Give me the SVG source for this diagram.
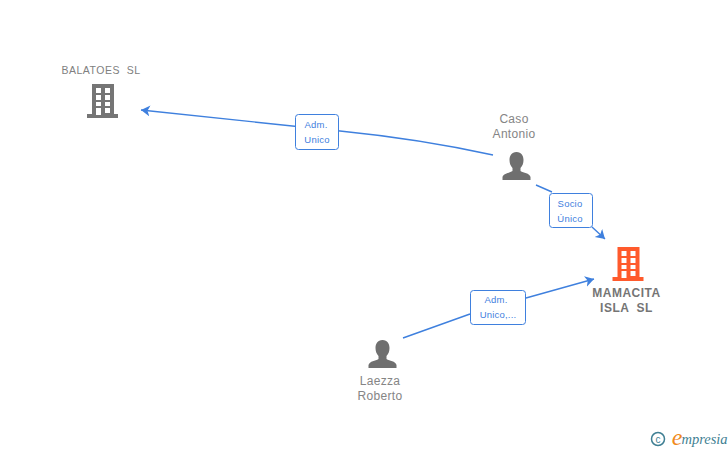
<svg xmlns="http://www.w3.org/2000/svg" width="728" height="450" viewBox="0 0 728 450">
<style>
text{font-family:"Liberation Sans",Arial,sans-serif;text-anchor:middle}
.n{font-size:12px;fill:#858585;letter-spacing:.3px}
.b{font-size:12px;fill:#757575;font-weight:700;letter-spacing:.5px}
.s{font-size:10.5px;fill:#808080;letter-spacing:.5px}
.l{font-size:9.5px;fill:#3f80de;letter-spacing:.2px}
.c{fill:none;stroke:#3f80de;stroke-width:1.4;marker-end:url(#a)}
.box{fill:#fff;stroke:#3f80de;stroke-width:1}
.p{fill:#6f6f6f}
.g{fill:#3f7f93}
</style>
<defs>
<marker id="a" markerUnits="userSpaceOnUse" markerWidth="12" markerHeight="12" refX="9" refY="5.500" orient="auto"><path d="M0 0L9 5.500L0 11L2.500 5.500Z" fill="#3f80de"/></marker>
<path id="bld" fill-rule="evenodd" d="M-11-17H11V13H15V17H-16V13H-11ZM-7-13V-8H-2V-13ZM2-13V-8H7V-13ZM-7-6V-1H-2V-6ZM2-6V-1H7V-6ZM-7 1V5H-2V1ZM2 1V5H7V1ZM-7 7V14H-2V7ZM2 7V12H7V7Z"/>
<path id="per" d="M0-14C-5-14-7-10-7-6C-7-3-6 0-4 2V5C-7 7-13 7-14 11V14H14V11C13 7 7 7 4 5V2C6 0 7-3 7-6C7-10 5-14 0-14Z"/>
</defs>
<g id="connectors">
<path class="c" d="M493 155Q420 139 340 131L141 110"/>
<path class="c" d="M536 185L552 192M592 227L605 239"/>
<path class="c" d="M403 338L470 314M526 298L594 279"/>
</g>
<g id="balatoes"><text class="s" x="101" y="74" xml:space="preserve">BALATOES  SL</text><use href="#bld" x="103" y="101" fill="#757575"/></g>
<g id="caso"><text class="n" x="514" y="123">Caso</text><text class="n" x="514" y="138">Antonio</text><use href="#per" class="p" x="516.500" y="166"/></g>
<g id="mamacita"><use href="#bld" x="628.500" y="264" fill="#ff5a2c"/><text class="b" x="626.500" y="297">MAMACITA</text><text class="b" x="626.500" y="312" xml:space="preserve">ISLA  SL</text></g>
<g id="laezza"><use href="#per" class="p" x="382.500" y="354"/><text class="n" x="380" y="385">Laezza</text><text class="n" x="380" y="400">Roberto</text></g>
<g id="label1"><rect class="box" x="295.500" y="114.500" width="43" height="35" rx="3"/><text class="l" x="316" y="128">Adm.</text><text class="l" x="317" y="143">Unico</text></g>
<g id="label2"><rect class="box" x="549.500" y="193.500" width="43" height="34" rx="3"/><text class="l" x="570" y="207">Socio</text><text class="l" x="570" y="222">Único</text></g>
<g id="label3"><rect class="box" x="470.500" y="290.500" width="55" height="34" rx="3"/><text class="l" x="496" y="303">Adm.</text><text class="l" x="498" y="318">Unico,...</text></g>
<g id="logo"><circle cx="658" cy="439" r="6.500" fill="none" stroke="#3f7f93" stroke-width="1.500"/><text class="g" x="658" y="442.500" style="font-size:10px">c</text><text x="677" y="445" style="font-family:'Liberation Serif',serif;font-size:24px;font-style:italic;fill:#f08a1d">e</text><text class="g" x="704.500" y="444" style="font-family:'Liberation Serif',serif;font-size:14.500px;font-style:italic">mpresia</text></g>
</svg>
